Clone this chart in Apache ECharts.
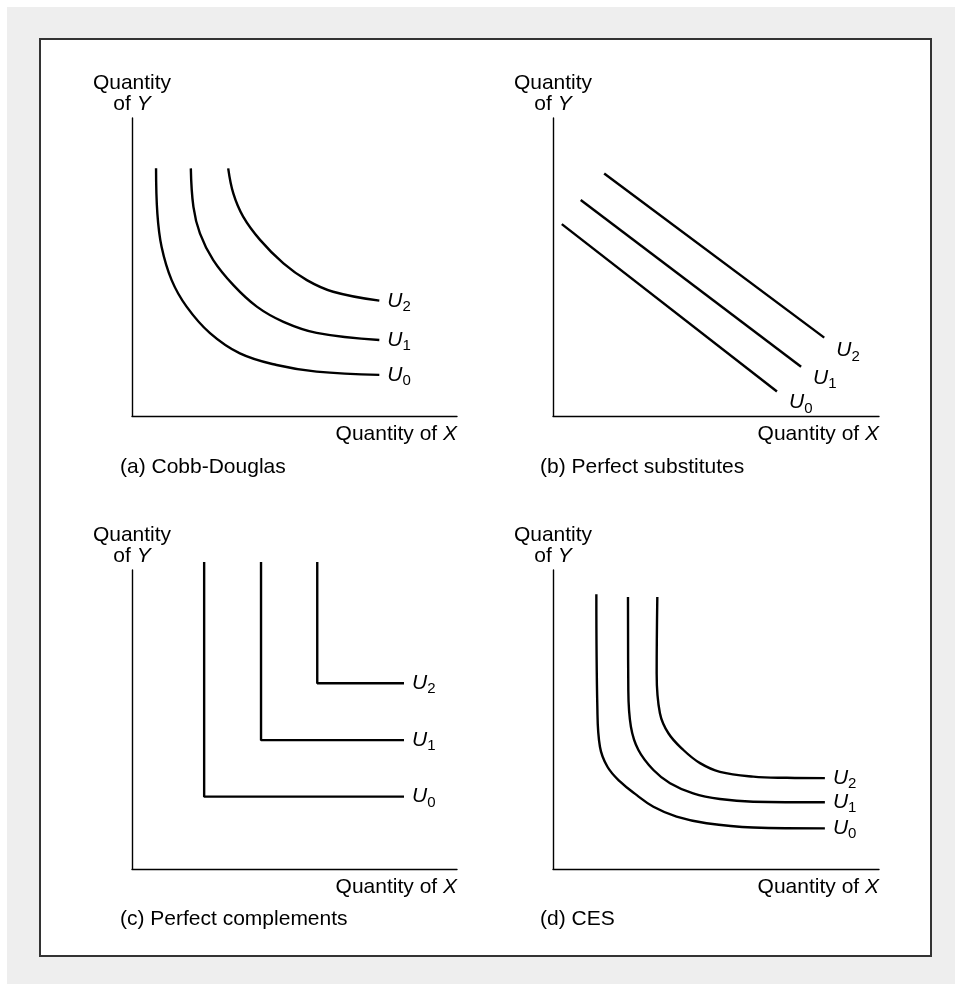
<!DOCTYPE html>
<html><head><meta charset="utf-8">
<script src="https://cdn.jsdelivr.net/npm/echarts@6/dist/echarts.min.js"></script>
<style>
html,body{margin:0;padding:0;background:#ffffff;}
#bg{position:absolute;left:7px;top:7px;width:948px;height:977px;background:#eeeeee;}
#chart{position:absolute;left:0;top:0;width:955px;height:984px;}
</style></head>
<body><div id="bg"></div><div id="chart"></div>
<script>
// ---- data (abstract units 0-100 on each axis) ----
const panelTitles = ['(a) Cobb-Douglas', '(b) Perfect substitutes', '(c) Perfect complements', '(d) CES'];
const curveSubs = ['0', '1', '2'];

const cobbU0 = [[7.4,83.1],[7.8,68.0],[9.1,56.8],[12.2,45.6],[16.8,36.7],[24.0,27.8],[33.2,21.0],[44.5,17.1],[56.8,14.9],[76.1,13.8]];
const cobbU1 = [[18.1,83.1],[18.9,70.2],[20.9,61.3],[25.0,52.3],[31.2,43.9],[38.4,36.7],[46.6,31.6],[56.8,27.9],[76.1,25.5]];
const cobbU2 = [[29.6,83.1],[31.2,74.6],[34.2,66.9],[39.4,59.1],[46.6,51.2],[53.8,45.6],[61.9,41.7],[76.1,38.7]];

const subsU0 = [[2.7,64.4],[68.7,8.2]];
const subsU1 = [[8.5,72.5],[76.1,16.5]];
const subsU2 = [[15.7,81.4],[83.2,26.3]];

const compU0 = [[22.2,102.7],[22.2,24.2],[83.7,24.2]];
const compU1 = [[39.7,102.7],[39.7,43.1],[83.7,43.1]];
const compU2 = [[57.0,102.7],[57.0,62.1],[83.7,62.1]];

const cesU0 = [[13.3,91.9],[13.6,54.3],[14.4,40.9],[16.7,34.2],[20.6,29.2],[25.7,24.7],[30.8,20.8],[37.9,17.5],[47.1,15.3],[61.4,13.9],[83.4,13.6]];
const cesU1 = [[23.0,91.0],[23.1,59.9],[23.9,47.6],[26.2,39.8],[30.8,33.1],[35.9,28.7],[43.0,25.3],[51.2,23.4],[61.4,22.5],[83.4,22.3]];
const cesU2 = [[32.0,91.0],[31.8,65.4],[32.8,52.1],[35.4,45.4],[40.0,39.8],[45.1,35.4],[51.2,32.5],[61.4,30.9],[71.7,30.5],[83.4,30.4]];

// ---- layout / style ----
const FF = 'Liberation Sans';
const FS = 21;
const grids = [
  {left:132, top:118, width:325, height:298},
  {left:553, top:118, width:326, height:298},
  {left:132, top:570, width:325, height:299},
  {left:553, top:570, width:326, height:299}
];
const titlePos = [[120,457],[540,457],[120,909],[540,909]];

const axisLine = {show:true, onZero:false, lineStyle:{color:'#000', width:1.4}};
const xAxes = grids.map((g,i)=>({
  type:'value', gridIndex:i, min:0, max:100,
  axisLine, axisTick:{show:false}, axisLabel:{show:false}, splitLine:{show:false},
  name:'{n|Quantity of }{i|X}', nameLocation:'end', nameGap:0,
  nameTextStyle:{align:'right', verticalAlign:'top', padding:[8,0,0,0],
    rich:{n:{fontFamily:FF,fontSize:FS,color:'#000'}, i:{fontFamily:FF,fontSize:FS,fontStyle:'italic',color:'#000'}}}
}));
const yAxes = grids.map((g,i)=>({
  type:'value', gridIndex:i, min:0, max:100,
  axisLine, axisTick:{show:false}, axisLabel:{show:false}, splitLine:{show:false},
  name:'{n|Quantity}\n{n|of }{i|Y}', nameLocation:'end', nameGap:3,
  nameTextStyle:{align:'center', verticalAlign:'bottom', lineHeight:21,
    rich:{n:{fontFamily:FF,fontSize:FS,color:'#000',lineHeight:21}, i:{fontFamily:FF,fontSize:FS,fontStyle:'italic',color:'#000',lineHeight:21}}}
}));

function curve(data, gi, sub, offset, smooth){
  return {
    type:'line', xAxisIndex:gi, yAxisIndex:gi, data:data,
    symbol:'none', showSymbol:false, smooth:smooth,
    clip:false, silent:true,
    lineStyle:{color:'#000', width:2.4},
    endLabel:{show:true, distance:8, offset:offset,
      formatter:'{u|U}{s|'+sub+'}',
      rich:{u:{fontFamily:FF,fontSize:FS,fontStyle:'italic',color:'#000'},
            s:{fontFamily:FF,fontSize:15,color:'#000',padding:[12,0,0,0]}}}
  };
}

const series = [
  curve(cobbU0,0,curveSubs[0],[0,0],0.4),
  curve(cobbU1,0,curveSubs[1],[0,0],0.4),
  curve(cobbU2,0,curveSubs[2],[0,0],0.4),
  curve(subsU0,1,curveSubs[0],[4,11],false),
  curve(subsU1,1,curveSubs[1],[4,11],false),
  curve(subsU2,1,curveSubs[2],[4,13],false),
  curve(compU0,2,curveSubs[0],[0,0],false),
  curve(compU1,2,curveSubs[1],[0,0],false),
  curve(compU2,2,curveSubs[2],[0,0],false),
  curve(cesU0,3,curveSubs[0],[0,0],0.4),
  curve(cesU1,3,curveSubs[1],[0,0],0.4),
  curve(cesU2,3,curveSubs[2],[0,0],0.4)
];

const chart = echarts.init(document.getElementById('chart'), null, {renderer:'canvas'});
chart.setOption({
  animation:false,
  backgroundColor:'transparent',
  graphic:[{type:'rect', z:-10, shape:{x:40, y:39, width:891, height:917},
    style:{fill:'#ffffff', stroke:'#333333', lineWidth:2}}],
  title: panelTitles.map((t,i)=>({text:t, left:titlePos[i][0], top:titlePos[i][1], padding:0,
    textStyle:{fontFamily:FF, fontSize:FS, fontWeight:'normal', color:'#000'}})),
  grid: grids,
  xAxis: xAxes,
  yAxis: yAxes,
  series: series
});
</script></body></html>
